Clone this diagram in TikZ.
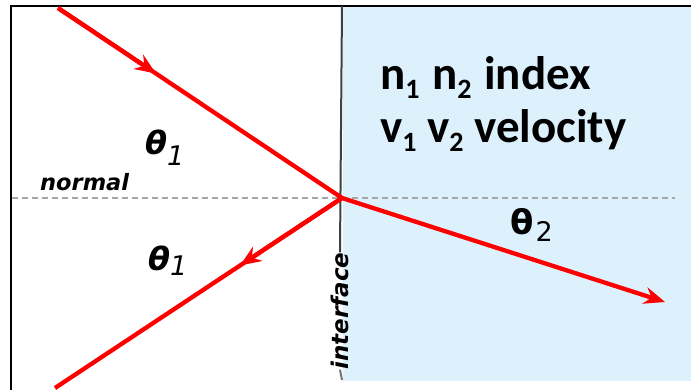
\documentclass[tikz,border=0pt]{standalone}
\usepackage{xcolor}
\usepackage{fontspec}
\usepackage{tikz}
\usetikzlibrary{arrows.meta, calc}
\newfontfamily\dejavu{DejaVu Sans}
\newfontfamily\carlito{Carlito}
\definecolor{waterblue}{RGB}{221,241,252}
\newcommand{\lowsub}[1]{\raisebox{-0.18em}{\fontsize{28}{28}\selectfont #1}}

\begin{document}
\begin{tikzpicture}[x=1pt, y=-1pt,
  ray/.style={red, line width=4.3pt},
  tip/.style={-{Stealth[length=21pt, width=17pt, inset=7pt]}},
  lbl/.style={inner sep=0pt, font=\dejavu}]
\useasboundingbox (0,0) rectangle (691,390);
% media
\fill[waterblue] (343,7) rectangle (691,381);
\draw[line width=2.5pt] (10,6) -- (691,6);
\draw[line width=2.5pt] (11,5) -- (11,390);
\draw[gray!70, line width=1.5pt, dash pattern=on 6pt off 4pt] (12,198) -- (675,198);
% interface
\coordinate (top) at (342,6);
\coordinate (bot) at (342,380);
\node[lbl, rotate=90, font=\dejavu\bfseries\itshape\fontsize{23}{23}\selectfont] (iface) at (340,311) {interface};
\draw[black!75, line width=2pt] (top) -- (iface.east);
\draw[black!55, line width=2pt] (iface.west) -- (bot);
% rays
\coordinate (src) at (58,8);
\coordinate (hit) at (342,198);
\coordinate (inmid) at ($(src)!0.345!(hit)$);
\coordinate (refl) at (55,388);
\coordinate (refmid) at ($(hit)!0.355!(refl)$);
\coordinate (out) at (665,302);
\draw[ray] (src) -- (hit) -- (refl);
\draw[ray, tip] (src) -- (inmid);
\draw[ray, tip] (hit) -- (refmid);
\draw[ray, tip] (hit) -- (out);
% labels
\node[lbl, anchor=base west, font=\dejavu\bfseries\itshape\fontsize{22.5}{22.5}\selectfont] (norm) at (40,191) {normal};
\node[lbl, anchor=base west] (thA) at (145,155) {\fontsize{32}{32}\selectfont\bfseries\itshape θ\raisebox{-11pt}{\mdseries\fontsize{27}{27}\selectfont 1}};
\node[lbl, anchor=base west] (thB) at (148,271) {\fontsize{32}{32}\selectfont\bfseries\itshape θ\raisebox{-5pt}{\mdseries\fontsize{27}{27}\selectfont 1}};
\node[lbl, anchor=base west] (thC) at (510,235) {\fontsize{34}{34}\selectfont\bfseries θ\kern2pt\raisebox{-7pt}{\mdseries\fontsize{27}{27}\selectfont 2}};
\node[lbl, anchor=base west, font=\carlito\bfseries\fontsize{47}{47}\selectfont] (idx) at (380,90) {n\lowsub{1}\kern2pt{} n\lowsub{2}\kern2pt{} index};
\node[lbl, anchor=base west, font=\carlito\bfseries\fontsize{47}{47}\selectfont] (vel) at (380,143) {v\lowsub{1} v\lowsub{2} velocity};
\end{tikzpicture}
\end{document}
